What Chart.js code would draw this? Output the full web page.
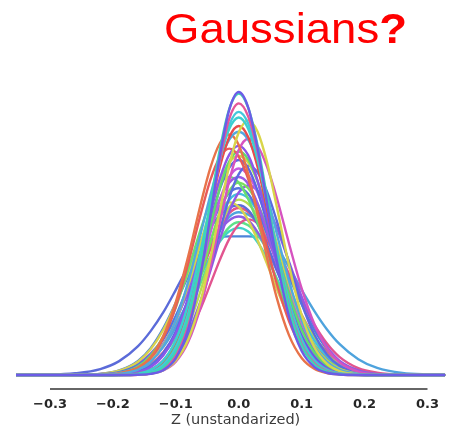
<!DOCTYPE html>
<html>
<head>
<meta charset="utf-8">
<title>Gaussians?</title>
<script src="https://cdn.jsdelivr.net/npm/chart.js@4.4.0/dist/chart.umd.min.js"></script>
<style>
  html, body { margin: 0; padding: 0; background: #fff; }
  #wrap { width: 461px; height: 434px; }
</style>
</head>
<body>
<div id="wrap"><canvas id="chart" width="461" height="434"></canvas></div>
<script>
const zGrid = [-0.354, -0.30, -0.26, -0.22, -0.19, -0.16, -0.14, -0.12, -0.10, -0.08, -0.06, -0.045, -0.03, -0.015,
  0, 0.015, 0.03, 0.045, 0.06, 0.08, 0.10, 0.12, 0.14, 0.16, 0.19, 0.22, 0.26, 0.30, 0.328];

const tickValues = [-0.3, -0.2, -0.1, 0, 0.1, 0.2, 0.3];
const axisTitle = 'Z (unstandarized)';

// one density curve per run (estimated heights)
const runA = [0,0,0,0,0,0.01,0.04,0.17,0.59,1.63,3.61,5.63,7.75,9.38,10,9.46,8.01,6.07,4.11,2.06,0.85,0.29,0.08,0.02,0,0,0,0,0];
const runB = [0,0,0,0,0,0.02,0.08,0.28,0.84,2.05,4.09,6.04,7.97,9.41,9.95,9.45,8.12,6.29,4.41,2.34,1.03,0.38,0.12,0.03,0,0,0,0,0];
const runC = [0,0,0,0,0,0.01,0.06,0.23,0.73,1.83,3.79,5.69,7.61,9.06,9.6,9.14,7.90,6.19,4.40,2.39,1.09,0.42,0.14,0.04,0,0,0,0,0];
const runD = [0,0,0,0,0,0.03,0.11,0.36,0.97,2.19,4.12,5.88,7.59,8.84,9.3,8.89,7.77,6.20,4.53,2.59,1.26,0.52,0.18,0.06,0.01,0,0,0,0];
const runE = [0,0,0,0,0,0.01,0.05,0.17,0.51,1.27,2.66,4.12,5.81,7.41,8.57,9.0,8.60,7.52,6.00,3.87,2.12,0.99,0.40,0.14,0.02,0,0,0,0];
const runF = [0,0,0,0,0.01,0.05,0.17,0.49,1.19,2.45,4.29,5.87,7.35,8.41,8.8,8.41,7.35,5.87,4.29,2.45,1.19,0.49,0.17,0.05,0.01,0,0,0,0];
const runG = [0,0,0,0.01,0.05,0.26,0.64,1.38,2.58,4.22,6.08,7.33,8.19,8.5,8.13,7.10,5.67,4.14,2.76,1.40,0.60,0.22,0.07,0.02,0,0,0,0,0];
const runH = [0,0,0,0,0,0.01,0.05,0.16,0.47,1.18,2.46,3.82,5.39,6.87,7.95,8.35,8.09,7.36,6.30,4.64,3.06,1.81,0.95,0.45,0.12,0.02,0,0,0];
const runI = [0,0,0,0,0.02,0.10,0.28,0.69,1.46,2.71,4.37,5.73,6.94,7.79,8.1,7.77,6.86,5.57,4.16,2.48,1.27,0.56,0.22,0.07,0.01,0,0,0,0];
const runJ = [0,0,0,0,0.01,0.05,0.16,0.44,1.07,2.20,3.85,5.27,6.60,7.55,7.9,7.62,6.84,5.72,4.45,2.85,1.60,0.80,0.35,0.13,0.03,0,0,0,0];
const runK = [0,0,0,0,0.02,0.13,0.33,0.77,1.54,2.74,4.28,5.50,6.58,7.33,7.6,7.31,6.51,5.37,4.10,2.54,1.37,0.64,0.26,0.09,0.02,0,0,0,0];
const runL = [0,0,0,0,0.01,0.06,0.19,0.51,1.15,2.23,3.75,5.02,6.18,7.00,7.3,7.07,6.44,5.51,4.43,3.00,1.82,0.99,0.48,0.21,0.05,0.01,0,0,0];
const runM = [0,0,0,0.01,0.06,0.25,0.55,1.08,1.90,3.05,4.38,5.38,6.22,6.80,7.0,6.76,6.06,5.07,3.94,2.53,1.42,0.70,0.31,0.12,0.02,0,0,0,0];
const runN = [0,0,0,0,0.01,0.06,0.18,0.47,1.07,2.08,3.50,4.68,5.76,6.52,6.8,6.60,6.05,5.22,4.26,2.96,1.85,1.05,0.53,0.24,0.06,0.01,0,0,0];
const runO = [0,0,0,0.03,0.10,0.35,0.70,1.26,2.09,3.17,4.37,5.23,5.95,6.44,6.6,6.40,5.82,4.98,4.01,2.71,1.64,0.89,0.43,0.19,0.04,0.01,0,0,0];
const runP = [0,0,0,0.01,0.03,0.14,0.35,0.75,1.45,2.47,3.75,4.74,5.60,6.19,6.4,6.24,5.77,5.08,4.24,3.07,2.03,1.22,0.67,0.34,0.10,0.02,0,0,0];
const runQ = [0,0,0,0,0,0.04,0.12,0.35,0.84,1.72,3.02,4.14,5.18,5.93,6.2,6.05,5.62,4.98,4.20,3.11,2.10,1.31,0.74,0.39,0.13,0.03,0,0,0];
const runR = [0,0.01,0.06,0.21,0.49,1.02,1.55,2.21,3.01,3.85,4.68,5.21,5.64,5.91,6.0,5.83,5.33,4.61,3.76,2.61,1.63,0.92,0.47,0.21,0.05,0.01,0,0,0];
const runS = [0,0,0,0.01,0.04,0.17,0.39,0.80,1.47,2.42,3.58,4.45,5.20,5.72,5.9,5.76,5.38,4.80,4.09,3.07,2.13,1.36,0.80,0.43,0.15,0.04,0.01,0,0];
const runT = [0,0,0,0.02,0.07,0.25,0.53,0.99,1.70,2.63,3.70,4.49,5.15,5.59,5.75,5.67,5.43,5.04,4.56,3.81,3.01,2.27,1.62,1.10,0.56,0.25,0.07,0.02,0.01];
const runU = [0,0,0.01,0.04,0.14,0.41,0.76,1.29,2.02,2.91,3.88,4.55,5.11,5.47,5.6,5.46,5.05,4.44,3.71,2.69,1.78,1.07,0.59,0.30,0.09,0.02,0,0,0];
const runV = [0,0,0,0.01,0.04,0.15,0.35,0.73,1.34,2.22,3.28,4.08,4.76,5.23,5.4,5.29,4.95,4.44,3.82,2.91,2.06,1.34,0.82,0.46,0.17,0.05,0.01,0,0];
const runW = [0,0,0,0.03,0.11,0.33,0.62,1.10,1.76,2.61,3.53,4.18,4.72,5.08,5.2,5.07,4.69,4.12,3.44,2.50,1.65,0.99,0.55,0.28,0.08,0.02,0,0,0];
const runX = [0,0,0,0.04,0.16,0.50,0.95,1.65,2.55,3.50,4.35,4.75,4.88,4.9,4.9,4.9,4.88,4.72,4.30,3.45,2.50,1.60,0.92,0.48,0.15,0.04,0,0,0];
const runY1 = [0,0,0,0,0.01,0.05,0.18,0.51,1.23,2.53,4.43,6.07,7.60,8.70,9.1,8.70,7.60,6.07,4.43,2.53,1.23,0.51,0.18,0.05,0.01,0,0,0,0];
const runY2 = [0,0,0,0.01,0.05,0.25,0.60,1.30,2.42,3.98,5.72,6.90,7.70,8.0,7.72,6.93,5.79,4.50,3.26,1.90,0.97,0.44,0.17,0.06,0.01,0,0,0,0];
const runY3 = [0,0,0,0,0,0.03,0.09,0.25,0.64,1.39,2.61,3.80,5.09,6.27,7.10,7.4,7.16,6.48,5.48,3.95,2.53,1.44,0.73,0.33,0.08,0.01,0,0,0];
const runY4 = [0,0,0,0.01,0.07,0.31,0.69,1.36,2.39,3.74,5.18,6.13,6.77,7.0,6.80,6.22,5.38,4.38,3.37,2.16,1.25,0.65,0.31,0.13,0.03,0.01,0,0,0];
const runY5 = [0,0,0,0,0.01,0.04,0.13,0.33,0.75,1.51,2.65,3.69,4.79,5.78,6.45,6.7,6.52,6.00,5.23,4.00,2.77,1.74,1.00,0.51,0.16,0.04,0,0,0];
const runY6 = [0,0,0,0.04,0.15,0.47,0.91,1.59,2.53,3.64,4.76,5.47,5.94,6.1,5.94,5.47,4.76,3.93,3.07,2.03,1.21,0.66,0.32,0.15,0.04,0.01,0,0,0];
const runY7 = [0,0,0,0,0.01,0.06,0.15,0.37,0.77,1.44,2.38,3.22,4.07,4.81,5.32,5.5,5.37,5.02,4.47,3.58,2.63,1.79,1.12,0.64,0.24,0.08,0.01,0,0];
const runY8 = [0,0,0,0.01,0.04,0.19,0.47,1.01,1.94,3.32,5.04,6.36,7.53,8.32,8.6,8.32,7.53,6.36,5.04,3.32,1.94,1.01,0.47,0.19,0.04,0.01,0,0,0];
const runY9 = [0,0,0,0.01,0.05,0.22,0.51,1.05,1.93,3.19,4.70,5.85,6.84,7.51,7.75,7.51,6.84,5.85,4.70,3.19,1.93,1.05,0.51,0.22,0.05,0.01,0,0,0];

const runs = [runA, runB, runC, runY1, runD, runE, runF, runY8, runG, runH, runI, runY2, runJ, runY9,
  runK, runY3, runL, runM, runY4, runN, runO, runY5, runP, runQ, runY6, runR, runS, runT,
  runU, runY7, runV, runW, runX];

const runColors = ['#6c5ce7', '#3dd6b5', '#e4579a', '#3ccfd0', '#44c7dc', '#d9d54a', '#e84b4b', '#52a8e0',
  '#e8734a', '#d653c0', '#8b57ea', '#e85a5a', '#5fdb6e', '#cfd64a',
  '#5a68e3', '#5a6ce0', '#c45be0', '#9a5ae6', '#6ade70', '#79e05c', '#5474df', '#9158e6',
  '#43bfdc', '#b7dc4f', '#d8d24e', '#5b6bd9', '#e45486', '#4ea3dd',
  '#8e5be3', '#e2558f', '#5ee08a', '#3fd2c8', '#4c84d9'];

function fmtTick(v) {
  const s = Math.abs(v).toFixed(1);
  return v < -1e-9 ? '\u2212' + s : s;
}

// red headline above the plot
const headline = {
  id: 'headline',
  afterDraw(chart) {
    const ctx = chart.ctx;
    ctx.save();
    ctx.fillStyle = '#ff0000';
    ctx.textBaseline = 'alphabetic';
    const normal = '42px "Liberation Sans", Arial, sans-serif';
    const bold = 'bold 42px "Liberation Sans", Arial, sans-serif';
    ctx.font = normal;
    const w1 = ctx.measureText('Gaussians').width;
    ctx.font = bold;
    const w2 = ctx.measureText('?').width;
    const k = 243 / (w1 + w2);
    ctx.translate(164, 43);
    ctx.scale(k, 1);
    ctx.font = normal;
    ctx.fillText('Gaussians', 0, 0);
    ctx.font = bold;
    ctx.fillText('?', w1, 0);
    ctx.restore();
  }
};

// trimmed x axis line (only between outer ticks) and the axis title under the labels
const axisDecor = {
  id: 'axisDecor',
  afterDraw(chart) {
    const x = chart.scales.x;
    const ctx = chart.ctx;
    const y = chart.chartArea.bottom + 14;
    ctx.save();
    ctx.strokeStyle = '#333333';
    ctx.lineWidth = 1.6;
    ctx.beginPath();
    ctx.moveTo(x.getPixelForValue(tickValues[0]), y);
    ctx.lineTo(x.getPixelForValue(tickValues[tickValues.length - 1]), y);
    ctx.stroke();
    ctx.fillStyle = '#3a3a3a';
    ctx.font = '14.5px "DejaVu Sans", sans-serif';
    ctx.textAlign = 'center';
    ctx.textBaseline = 'middle';
    ctx.fillText(axisTitle, x.getPixelForValue(-0.005), chart.chartArea.bottom + 45);
    ctx.restore();
  }
};

new Chart(document.getElementById('chart'), {
  type: 'line',
  data: {
    datasets: runs.map((run, i) => ({
      data: run.map((v, j) => ({ x: zGrid[j], y: v })),
      borderColor: runColors[i],
      borderWidth: 2.4,
      pointRadius: 0,
      fill: false,
      cubicInterpolationMode: 'monotone',
      clip: false
    }))
  },
  options: {
    responsive: false,
    animation: false,
    layout: { padding: { left: 16, right: 0, top: 70, bottom: 0 } },
    plugins: {
      legend: { display: false },
      tooltip: { enabled: false }
    },
    scales: {
      x: {
        type: 'linear',
        min: -0.354,
        max: 0.328,
        afterBuildTicks: (scale) => { scale.ticks = tickValues.map(v => ({ value: v })); },
        afterFit: (scale) => { scale.height = 59; },
        grid: { display: false, drawTicks: false },
        border: { display: false },
        ticks: {
          padding: 22,
          color: '#262626',
          font: { family: '"DejaVu Sans", sans-serif', size: 13, weight: 'bold' },
          callback: (v) => fmtTick(v),
          maxRotation: 0,
          autoSkip: false
        }
      },
      y: {
        display: false,
        min: 0,
        max: 10.78
      }
    }
  },
  plugins: [headline, axisDecor]
});
</script>
</body>
</html>
